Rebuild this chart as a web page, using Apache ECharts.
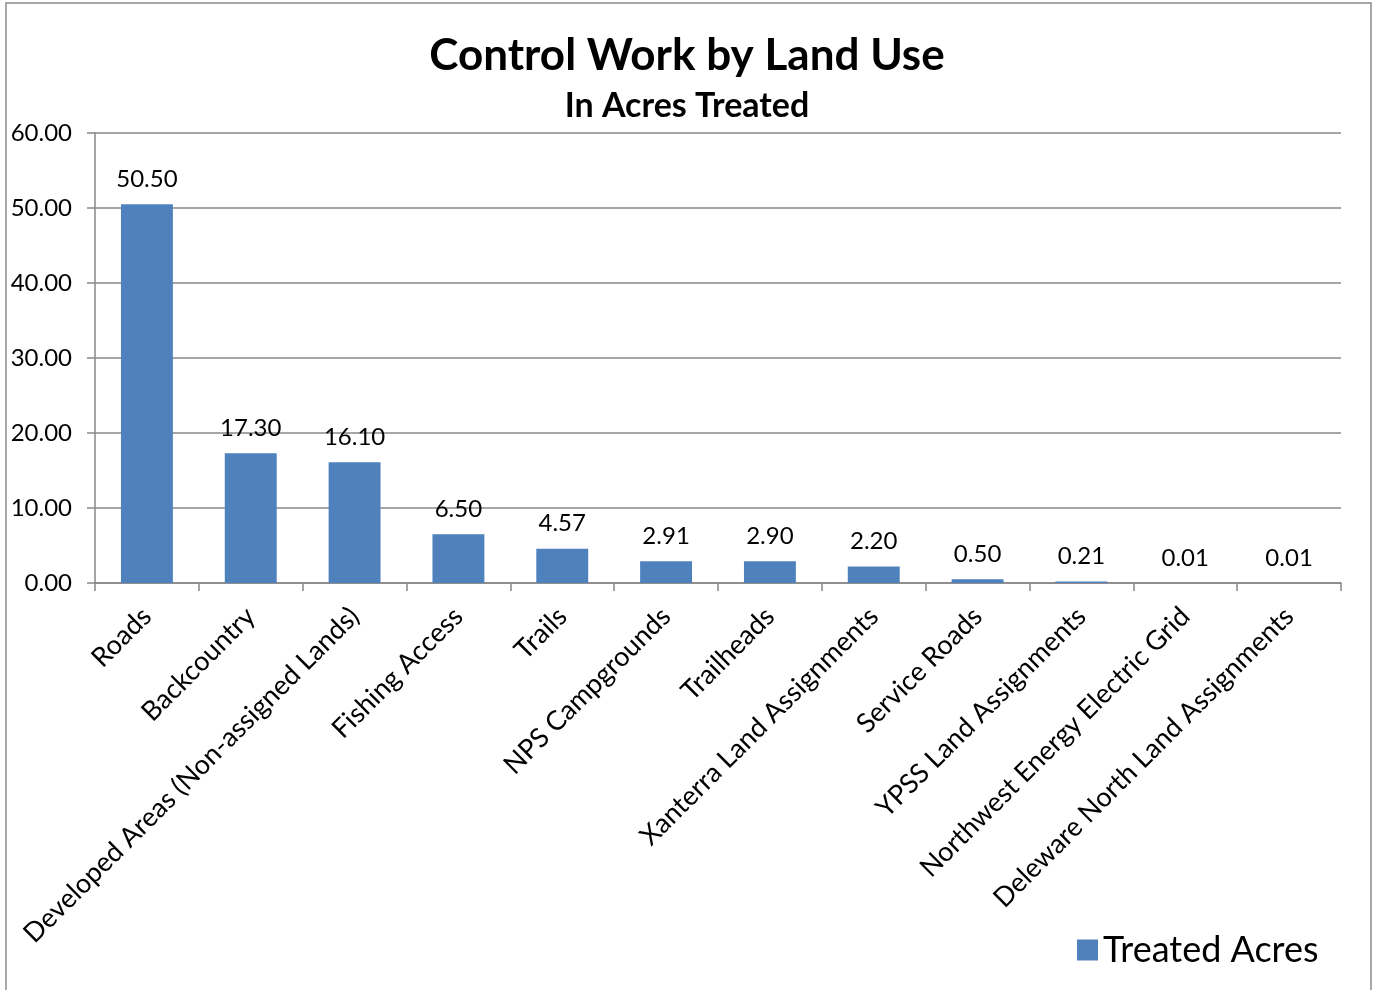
<!DOCTYPE html>
<html>
<head>
<meta charset="utf-8">
<script src="https://cdn.jsdelivr.net/npm/echarts@6/dist/echarts.min.js"></script>
<style>
html,body{margin:0;padding:0;background:#fff;}
#c{width:1374px;height:990px;}
</style>
</head>
<body>
<div id="c"></div>
<script>
const categories = ["Roads","Backcountry","Developed Areas (Non-assigned Lands)","Fishing Access","Trails","NPS Campgrounds","Trailheads","Xanterra Land Assignments","Service Roads","YPSS Land Assignments","Northwest Energy Electric Grid","Deleware North Land Assignments"];
const treatedAcres = [50.50,17.30,16.10,6.50,4.57,2.91,2.90,2.20,0.50,0.21,0.01,0.01];
const titleText = "Control Work by Land Use";
const subtitleText = "In Acres Treated";
const seriesName = "Treated Acres";

const font = "Lato, 'Open Sans', sans-serif";
const chart = echarts.init(document.getElementById('c'));
chart.setOption({
  animation:false,
  textStyle:{fontFamily:font},
  graphic:[{type:'rect',shape:{x:6,y:3,width:1365,height:1000},style:{fill:'none',stroke:'#8c8c8c',lineWidth:1.5},silent:true}],
  title:[
    {text:titleText,left:'center',top:29,textStyle:{fontFamily:font,fontSize:44,fontWeight:'bold',color:'#000'}},
    {text:subtitleText,left:'center',top:84,textStyle:{fontFamily:font,fontSize:34,fontWeight:'bold',color:'#000'}}
  ],
  legend:{show:true,left:1077,top:932,padding:0,itemWidth:21,itemHeight:21,itemGap:9,icon:'rect',
    textStyle:{fontFamily:font,fontSize:36,color:'#000'},data:[seriesName]},
  grid:{left:95,right:33,top:133,bottom:407,containLabel:false},
  xAxis:{type:'category',data:categories,
    axisLine:{lineStyle:{color:'#888',width:1.5}},
    axisTick:{show:true,length:8,alignWithLabel:false,lineStyle:{color:'#888',width:1.5}},
    axisLabel:{rotate:45,interval:0,fontFamily:font,fontSize:27,color:'#000',margin:29}},
  yAxis:{type:'value',min:0,max:60,interval:10,
    axisLine:{show:true,lineStyle:{color:'#888',width:1.5}},
    axisTick:{show:true,length:8,lineStyle:{color:'#888',width:1.5}},
    splitLine:{lineStyle:{color:'#888',width:1.5}},
    axisLabel:{formatter:v=>v.toFixed(2),fontFamily:font,fontSize:24,color:'#000',margin:23}},
  series:[{name:seriesName,type:'bar',data:treatedAcres,barWidth:'50%',
    itemStyle:{color:'#4F81BD'},
    label:{show:true,position:'top',distance:13,formatter:p=>p.value.toFixed(2),fontFamily:font,fontSize:24,color:'#000'}}]
});
</script>
</body>
</html>
